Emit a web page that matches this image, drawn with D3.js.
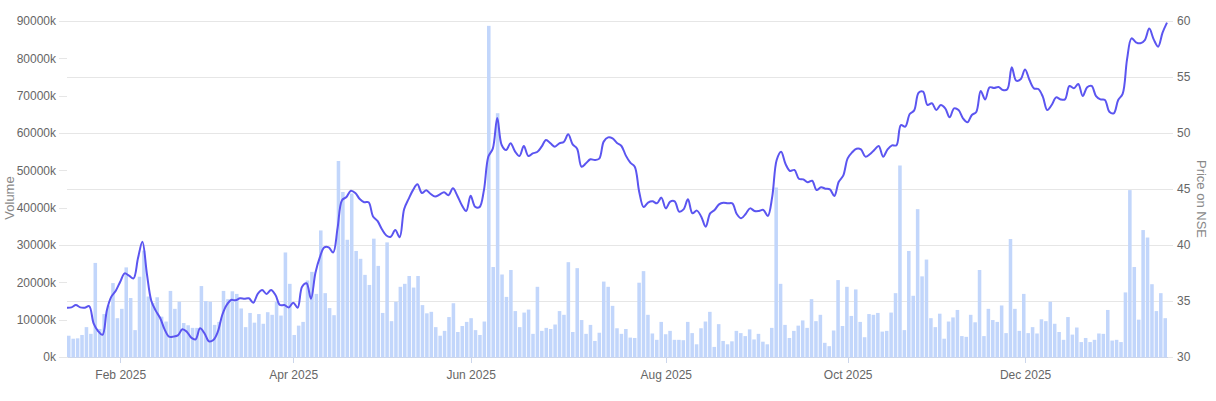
<!DOCTYPE html>
<html>
<head>
<meta charset="utf-8">
<script src="https://cdn.jsdelivr.net/npm/d3@7"></script>
<style>
  body { margin: 0; background: #fff; }
  svg { display: block; font-family: "Liberation Sans", Arial, sans-serif; }
</style>
</head>
<body>
<svg id="chart" width="1216" height="401"></svg>
<script>
// trading calendar (NSE), one year of sessions
const firstDay = "2025-01-16";
const lastDay = "2026-01-16";
const holidays = ["2025-02-26", "2025-03-14", "2025-03-31", "2025-04-10", "2025-04-14", "2025-04-18",
  "2025-05-01", "2025-08-15", "2025-08-27", "2025-10-02", "2025-10-22", "2025-11-05", "2025-12-25", "2026-01-15"];
const specialSessions = ["2025-02-01"];

// daily volume, in thousands of shares
const volume = [
  5700, 4900, 5000, 5900, 8000, 6200, 25200, 7500, 11500, 13800, 19800, 10400, 12900, 24000, 15800, 7200,
  21500, 28500, 16200, 14500, 16000, 10800, 9500, 17700, 12900, 14800, 9100, 8500, 7800, 7800, 19000, 15000,
  14800, 8600, 9400, 17700, 15500, 17600, 16900, 13000, 8000, 11800, 9200, 11500, 8900, 12000, 11300, 14800,
  11100, 28000, 19600, 5900, 8400, 9400, 20500, 22800, 16900, 33900, 17100, 13100, 11200, 52500, 44200, 31400,
  43800, 28400, 26300, 22000, 19300, 31700, 24400, 11800, 30700, 9600, 14800, 18800, 19600, 21700, 18600, 21700,
  13900, 11700, 12100, 8000, 5700, 7000, 10700, 14400, 6700, 8300, 9400, 10400, 7200, 5900, 9500, 88700,
  24100, 65300, 22100, 16100, 23300, 12300, 8000, 11900, 12700, 6200, 18800, 7000, 7800, 7500, 8700, 12300,
  11300, 25400, 6700, 23800, 9900, 6200, 8600, 4300, 6500, 20200, 18800, 13700, 7700, 6200, 7500, 5200,
  5100, 19900, 23000, 11300, 6300, 4600, 9400, 6100, 7000, 4600, 4600, 4500, 9400, 6400, 3400, 7700,
  9500, 12100, 2700, 8800, 4300, 3400, 4200, 7000, 6400, 5600, 7400, 4700, 6200, 4100, 3400, 7800,
  45400, 19600, 8600, 5100, 7000, 8400, 9800, 7800, 15500, 9600, 11300, 3800, 2900, 7100, 20600, 8300,
  18800, 11000, 18100, 9400, 5300, 11500, 11300, 11800, 6800, 7000, 11900, 17100, 51300, 7200, 28400, 16400,
  39600, 21600, 26100, 10400, 8000, 11600, 4900, 9500, 10600, 12600, 5600, 5400, 11300, 9300, 23300, 5600,
  12900, 9900, 9400, 13800, 6400, 31600, 12900, 7000, 16900, 6400, 8000, 6300, 10100, 9600, 14800, 8900,
  6700, 4600, 10700, 6000, 7900, 4000, 5100, 4000, 4600, 6300, 6200, 12600, 4400, 4600, 4000, 17300,
  44700, 24100, 10000, 34000, 32000, 19500, 12300, 17100, 10400
];

// closing price on NSE
const price = [
  34.40, 34.43, 34.64, 34.43, 34.40, 34.55, 33.01, 32.32, 31.98, 34.20, 35.39, 35.92, 36.72, 37.47, 37.26, 37.02,
  38.81, 40.30, 37.47, 35.03, 34.14, 33.48, 32.47, 31.82, 31.82, 31.93, 32.47, 32.26, 31.73, 31.58, 32.56, 32.11,
  31.40, 31.52, 32.26, 33.75, 34.64, 35.09, 35.06, 35.24, 35.21, 35.24, 34.85, 35.63, 35.98, 35.63, 35.98, 35.54,
  34.64, 34.64, 34.43, 34.85, 34.40, 36.28, 36.58, 35.20, 37.50, 38.90, 39.79, 39.79, 39.32, 41.50, 44.00, 44.28,
  44.85, 44.65, 44.10, 43.82, 43.82, 42.55, 42.15, 41.40, 40.85, 40.74, 41.34, 40.70, 43.20, 44.10, 44.90, 45.42,
  44.65, 44.88, 44.55, 44.32, 44.50, 44.72, 44.45, 45.06, 44.40, 43.57, 43.03, 44.40, 43.42, 43.38, 44.90, 47.90,
  48.60, 51.35, 48.93, 48.48, 49.08, 48.36, 47.95, 48.84, 47.95, 48.18, 48.30, 48.78, 49.38, 49.08, 48.78, 49.08,
  49.20, 49.88, 48.99, 48.60, 46.99, 47.29, 47.65, 47.59, 47.71, 49.23, 49.61, 49.52, 49.11, 48.84, 47.98, 47.35,
  46.99, 44.76, 43.39, 43.78, 43.90, 43.72, 44.23, 43.27, 43.87, 43.90, 42.98, 43.18, 44.08, 42.83, 43.07, 42.53,
  41.64, 42.83, 43.13, 43.63, 43.78, 43.72, 43.72, 42.77, 42.38, 42.77, 43.27, 43.04, 43.04, 43.13, 42.59, 44.32,
  47.59, 48.33, 47.23, 46.61, 46.70, 45.92, 45.86, 45.60, 45.74, 44.91, 45.15, 45.03, 44.97, 44.38, 45.65, 46.19,
  47.74, 48.27, 48.60, 48.54, 47.89, 48.10, 48.48, 48.84, 47.89, 48.54, 48.90, 48.90, 50.71, 50.57, 51.70, 52.02,
  53.60, 53.69, 52.50, 52.65, 52.05, 52.50, 52.20, 51.40, 52.20, 52.05, 51.31, 50.95, 51.61, 51.88, 53.75, 53.00,
  54.08, 54.02, 54.11, 53.84, 53.90, 55.86, 54.67, 54.80, 55.68, 54.73, 53.99, 53.93, 53.24, 52.05, 52.50, 53.18,
  53.00, 53.00, 54.20, 53.99, 54.38, 53.30, 54.08, 54.20, 53.30, 53.00, 52.95, 51.90, 51.76, 52.95, 53.50, 56.60,
  58.45, 58.10, 58.01, 58.30, 59.32, 58.36, 57.71, 58.96, 59.85
];

const tickLabels = ["Feb 2025", "Apr 2025", "Jun 2025", "Aug 2025", "Oct 2025", "Dec 2025"];
const volumeTicks = [0, 10000, 20000, 30000, 40000, 50000, 60000, 70000, 80000, 90000];
const priceTicks = [30, 35, 40, 45, 50, 55, 60];

const svg = d3.select("#chart");
const plotLeft = 67, plotRight = 1167, plotTop = 21, plotBottom = 357;

const fmtDay = d3.timeFormat("%Y-%m-%d");
const fmtMonth = d3.timeFormat("%b %Y");
const parseDay = d3.timeParse("%Y-%m-%d");

// weekdays plus special sessions, minus exchange holidays
const days = d3.timeDay
  .range(parseDay(firstDay), d3.timeDay.offset(parseDay(lastDay), 1))
  .filter(d => (d.getDay() % 6 !== 0 || specialSessions.includes(fmtDay(d))) && !holidays.includes(fmtDay(d)))
  .slice(0, volume.length);
const keys = days.map(fmtDay);

const x = d3.scalePoint().domain(keys).range([plotLeft, plotRight]);
const xBand = d3.scaleBand().domain(keys).range([plotLeft, plotRight]).paddingInner(0.2);
const yVol = d3.scaleLinear().domain([0, 90000]).range([plotBottom, plotTop]);
const yPrice = d3.scaleLinear().domain([30, 60]).range([plotBottom, plotTop]);

// grid lines follow the price axis
svg.append("g")
  .selectAll("line")
  .data(priceTicks)
  .join("line")
  .attr("x1", plotLeft)
  .attr("x2", plotRight)
  .attr("y1", d => yPrice(d))
  .attr("y2", d => yPrice(d))
  .attr("stroke", "#e6e6e6")
  .attr("stroke-width", 1)
  .attr("shape-rendering", "crispEdges");

// volume bars
svg.append("g")
  .selectAll("rect")
  .data(volume)
  .join("rect")
  .attr("x", (d, i) => xBand(keys[i]))
  .attr("width", xBand.bandwidth())
  .attr("y", d => yVol(d))
  .attr("height", d => plotBottom - yVol(d))
  .attr("fill", "#c2d6fb");

// price line
const line = d3.line()
  .x((d, i) => x(keys[i]))
  .y(d => yPrice(d))
  .curve(d3.curveCatmullRom.alpha(0.5));

svg.append("path")
  .datum(price)
  .attr("fill", "none")
  .attr("stroke", "#5b55f0")
  .attr("stroke-width", 2)
  .attr("stroke-linejoin", "round")
  .attr("d", line);

function styleAxis(g, tickColor) {
  g.select(".domain").remove();
  g.selectAll(".tick line").attr("stroke", tickColor).attr("shape-rendering", "crispEdges");
  g.selectAll(".tick text").attr("fill", "#666").attr("font-family", null).style("font-size", "12px");
}

// left axis: volume
svg.append("g")
  .attr("transform", "translate(" + plotLeft + ",0)")
  .call(d3.axisLeft(yVol).tickValues(volumeTicks).tickSize(8).tickPadding(3).tickFormat(d => d + "k"))
  .call(g => styleAxis(g, "#e6e6e6"));

// right axis: price
svg.append("g")
  .attr("transform", "translate(" + plotRight + ",0)")
  .call(d3.axisRight(yPrice).tickValues(priceTicks).tickSize(6).tickPadding(4))
  .call(g => styleAxis(g, "#e6e6e6"));

// bottom axis: first session of every second month
const monthTicks = tickLabels.map(lab => keys[days.findIndex(d => fmtMonth(d) === lab)]);
svg.append("g")
  .attr("transform", "translate(0," + plotBottom + ")")
  .call(d3.axisBottom(x).tickValues(monthTicks).tickSize(6).tickPadding(7).tickSizeOuter(0)
    .tickFormat(k => fmtMonth(parseDay(k))))
  .call(g => {
    g.select(".domain").attr("stroke", "#ccd6eb").attr("shape-rendering", "crispEdges");
    g.selectAll(".tick line").attr("stroke", "#ccd6eb").attr("shape-rendering", "crispEdges");
    g.selectAll(".tick text").attr("fill", "#666").attr("font-family", null).style("font-size", "12px");
  });

// axis titles
svg.append("text")
  .attr("transform", "translate(14,198) rotate(-90)")
  .attr("text-anchor", "middle")
  .attr("fill", "#888")
  .style("font-size", "13px")
  .text("Volume");

svg.append("text")
  .attr("transform", "translate(1197,199) rotate(90)")
  .attr("text-anchor", "middle")
  .attr("fill", "#888")
  .style("font-size", "13px")
  .text("Price on NSE");
</script>
</body>
</html>
